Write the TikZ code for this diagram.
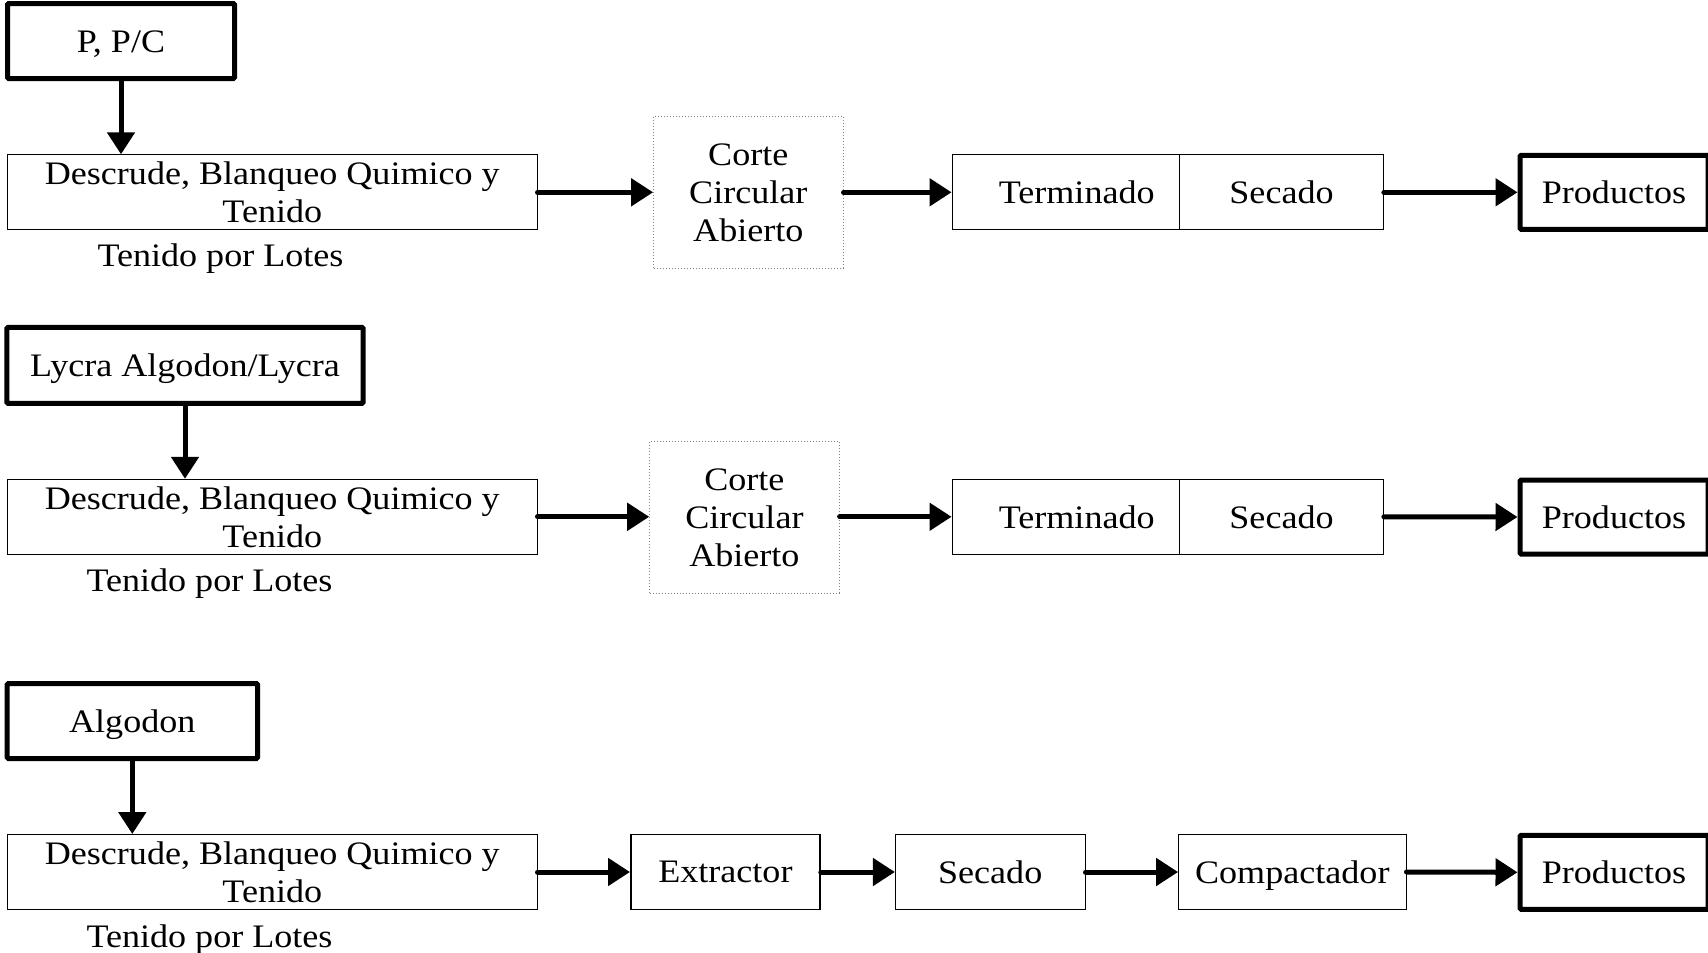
\documentclass[tikz,border=0pt]{standalone}
\usepackage{fontspec}
\setmainfont{Liberation Serif}[FakeStretch=1.1]
\usetikzlibrary{arrows.meta}
\begin{document}
\begin{tikzpicture}[x=0.5pt,y=-0.5pt,
  every node/.style={font=\fontsize{16.4}{19}\selectfont, inner sep=0pt, align=center},
  box/.style={draw, line width=0.5pt, rectangle, minimum height=37.5pt},
  flat/.style={text height=11.2pt, text depth=0pt},
  srcbox/.style={draw, line width=2.5pt, rectangle, rounded corners=0.6pt, flat},
  cutbox/.style={draw=gray, line width=0.5pt, dash pattern=on 0.6pt off 0.9pt, minimum width=94.7pt, minimum height=75.75pt},
  prodbox/.style={srcbox, minimum width=94pt, minimum height=37pt},
  flow/.style={line width=2.5pt, line cap=round, -{Triangle[length=11pt,width=13.5pt]}},
  lbl/.style={}]
\useasboundingbox (0,0) rectangle (1708,953);

% ---- line 1: P, P/C
\node[srcbox, minimum width=113.5pt, minimum height=37.5pt] (src1) at (121,41) {P, P/C};
\node[box, minimum width=264.7pt] (proc1) at (272.3,192.3) {Descrude, Blanqueo Quimico y\\Tenido};
\node[lbl] (lot1) at (220.5,258.5) {Tenido por Lotes};
\node[cutbox] (cut1) at (748.3,192.3) {Corte\\Circular\\Abierto};
\node[box, minimum width=113.85pt] (term1) at (1065.9,192.3) {\hspace*{10.8pt}Terminado};
\node[box, minimum width=101.85pt] (sec1) at (1281.5,192.3) {Secado};
\node[prodbox] (prod1) at (1614,192.3) {Productos};
\draw[flow] (src1.south) -- (src1.south |- proc1.north);
\draw[flow] (proc1.east) -- (cut1.west);
\draw[flow] (cut1.east) -- (term1.west);
\draw[flow] (sec1.east) -- (prod1.west);

% ---- line 2: Lycra Algodon/Lycra
\node[srcbox, minimum width=178.2pt, minimum height=38pt] (src2) at (185,365.4) {Lycra Algodon/Lycra};
\node[box, minimum width=264.7pt] (proc2) at (272.3,516.8) {Descrude, Blanqueo Quimico y\\Tenido};
\node[lbl] (lot2) at (209.5,584.1) {Tenido por Lotes};
\node[cutbox] (cut2) at (744.4,517.3) {Corte\\Circular\\Abierto};
\node[box, minimum width=113.85pt] (term2) at (1065.9,516.8) {\hspace*{10.8pt}Terminado};
\node[box, minimum width=101.85pt] (sec2) at (1281.5,516.8) {Secado};
\node[prodbox] (prod2) at (1614,517) {Productos};
\draw[flow] (src2.south) -- (src2.south |- proc2.north);
\draw[flow] (proc2.east) -- (proc2.east -| cut2.west);
\draw[flow] (cut2.east |- term2.west) -- (term2.west);
\draw[flow] (sec2.east) -- (prod2.west);

% ---- line 3: Algodon
\node[srcbox, minimum width=125.2pt, minimum height=37.5pt] (src3) at (132.3,721) {Algodon};
\node[box, minimum width=264.7pt] (proc3) at (272.3,872) {Descrude, Blanqueo Quimico y\\Tenido};
\node[lbl] (lot3) at (209.5,939.2) {Tenido por Lotes};
\node[box, line width=0.8pt, minimum width=94.6pt] (ext3) at (725.4,872) {Extractor};
\node[box, minimum width=94.8pt] (sec3) at (990.2,872) {Secado};
\node[box, flat, minimum width=113.7pt] (comp3) at (1292.3,872) {Compactador};
\node[prodbox] (prod3) at (1614,872.3) {Productos};
\draw[flow] (src3.south) -- (src3.south |- proc3.north);
\draw[flow] (proc3.east) -- (ext3.west);
\draw[flow] (ext3.east) -- (sec3.west);
\draw[flow] (sec3.east) -- (comp3.west);
\draw[flow] (comp3.east) -- (prod3.west);
\end{tikzpicture}
\end{document}
